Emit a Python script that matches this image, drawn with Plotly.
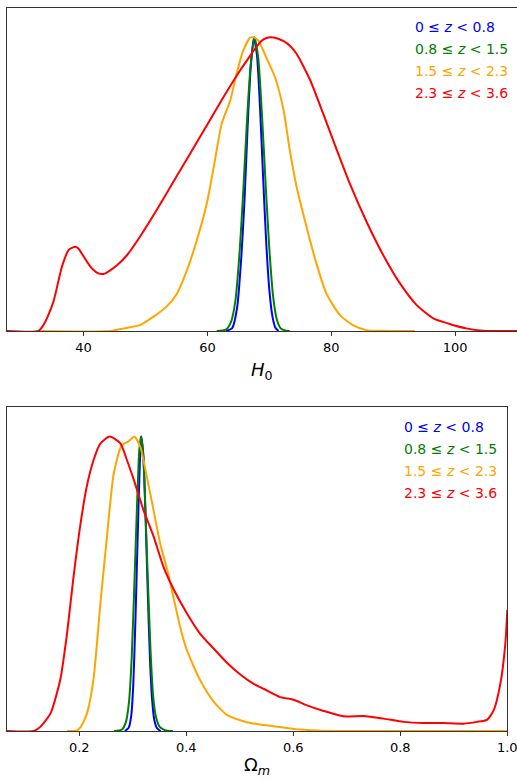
import plotly.graph_objects as go

# ---------- H0 panel data (normalised posterior) ----------
h0_blue_x = [63.0, 64.0, 64.8, 65.5, 66.0, 66.5, 67.0, 67.5, 68.0, 68.5, 69.0, 69.5, 70.0, 70.5, 71.0, 71.5]
h0_blue_y = [0.0, 0.01, 0.08, 0.26, 0.45, 0.70, 0.90, 1.0, 0.94, 0.76, 0.52, 0.30, 0.14, 0.05, 0.01, 0.0]

h0_green_x = [61.5, 63.0, 63.8, 64.5, 65.2, 65.8, 66.4, 67.0, 67.6, 68.2, 68.8, 69.4, 70.0, 70.6, 71.2, 71.8, 72.5, 73.3]
h0_green_y = [0.0, 0.005, 0.03, 0.10, 0.27, 0.48, 0.72, 0.91, 1.0, 0.93, 0.74, 0.50, 0.28, 0.12, 0.04, 0.01, 0.002, 0.0]

h0_orange_x = [33.0, 44.3, 46.5, 49.1, 51.3, 53.4, 55.1, 56.7, 58.3, 59.9, 61.2, 62.3, 63.7, 64.7, 65.8,
               66.9, 67.4, 68.2, 69.6, 70.9, 72.3, 73.3, 74.4, 76.0, 77.6, 79.2, 81.4, 83.5, 85.7, 88.0, 93.5]
h0_orange_y = [0.0, 0.0, 0.009, 0.02, 0.049, 0.083, 0.128, 0.207, 0.31, 0.434, 0.58, 0.706, 0.786, 0.876, 0.956,
               0.999, 1.0, 0.99, 0.927, 0.865, 0.752, 0.616, 0.491, 0.355, 0.23, 0.128, 0.054, 0.02, 0.003, 0.0005, 0.0]

h0_red_x = [27.6, 32.7, 33.5, 34.3, 35.2, 36.5, 37.6, 38.2, 38.7, 39.2, 39.7, 41.1, 42.2, 43.2, 43.8, 45.4, 47.0,
            49.1, 51.8, 54.5, 57.2, 59.9, 62.6, 65.3, 66.5, 68.0, 69.0, 70.1, 71.2, 72.3, 73.4, 74.4, 76.6,
            78.7, 80.3, 83.0, 85.7, 88.4, 91.1, 93.8, 96.5, 99.1, 101.8, 104.5, 110.0]
h0_red_y = [0.0, 0.0, 0.02, 0.054, 0.105, 0.219, 0.276, 0.284, 0.287, 0.28, 0.264, 0.219, 0.198, 0.194, 0.20, 0.224,
            0.258, 0.321, 0.412, 0.508, 0.604, 0.70, 0.797, 0.888, 0.925, 0.97, 0.992, 1.0, 0.997, 0.987, 0.97,
            0.944, 0.854, 0.74, 0.65, 0.502, 0.372, 0.258, 0.162, 0.088, 0.043, 0.024, 0.009, 0.001, 0.0]

# ---------- Omega_m panel data ----------
om_blue_x = [0.285, 0.292, 0.297, 0.301, 0.305, 0.309, 0.313, 0.316, 0.320, 0.324, 0.328, 0.332, 0.336, 0.340, 0.345, 0.352]
om_blue_y = [0.0, 0.01, 0.05, 0.16, 0.38, 0.65, 0.90, 1.0, 0.93, 0.72, 0.47, 0.25, 0.11, 0.04, 0.01, 0.0]

om_green_x = [0.265, 0.280, 0.287, 0.293, 0.298, 0.303, 0.308, 0.312, 0.315, 0.319, 0.323, 0.328, 0.333,
              0.338, 0.343, 0.350, 0.360, 0.375]
om_green_y = [0.0, 0.005, 0.03, 0.10, 0.25, 0.50, 0.77, 0.95, 1.0, 0.95, 0.78, 0.52, 0.28, 0.12, 0.05, 0.015, 0.003, 0.0]

om_orange_x = [0.177, 0.195, 0.202, 0.2144, 0.2268, 0.2393, 0.2517, 0.264, 0.2766, 0.283, 0.291, 0.303, 0.314,
               0.3265, 0.339, 0.3514, 0.364, 0.376, 0.389, 0.401, 0.426, 0.451, 0.476, 0.5135, 0.538, 0.563,
               0.6006, 0.644, 0.70, 1.0]
om_orange_y = [0.0, 0.002, 0.012, 0.06, 0.18, 0.43, 0.66, 0.87, 0.96, 0.975, 0.982, 0.999, 0.965,
               0.861, 0.748, 0.635, 0.55, 0.454, 0.35, 0.275, 0.172, 0.10, 0.055, 0.03, 0.022, 0.016,
               0.007, 0.002, 0.0, 0.0]

om_red_x = [0.0649, 0.1146, 0.127, 0.146, 0.1645, 0.177, 0.189, 0.202, 0.214, 0.2267, 0.239, 0.2567, 0.2766,
            0.289, 0.3015, 0.32, 0.339, 0.3576, 0.376, 0.401, 0.426, 0.451, 0.476, 0.501, 0.526, 0.5445,
            0.5757, 0.6006, 0.6255, 0.6567, 0.694, 0.7315, 0.769, 0.8062, 0.8436, 0.881, 0.918, 0.943,
            0.962, 0.9745, 0.987, 0.9963, 1.0]
om_red_y = [0.0, 0.0, 0.014, 0.059, 0.175, 0.33, 0.52, 0.70, 0.83, 0.92, 0.975, 1.0, 0.977,
            0.92, 0.855, 0.75, 0.66, 0.556, 0.482, 0.40, 0.33, 0.28, 0.232, 0.192, 0.16, 0.1435,
            0.115, 0.106, 0.087, 0.068, 0.05, 0.051, 0.042, 0.031, 0.027, 0.027, 0.025, 0.031,
            0.038, 0.07, 0.16, 0.296, 0.411]

labels = ["0 ≤ <i>z</i> < 0.8", "0.8 ≤ <i>z</i> < 1.5", "1.5 ≤ <i>z</i> < 2.3", "2.3 ≤ <i>z</i> < 3.6"]
colors = ["blue", "green", "orange", "red"]

h0_x_ticks = [40, 60, 80, 100]
om_x_ticks = [0.2, 0.4, 0.6, 0.8, 0.9999]
om_x_ticktext = ["0.2", "0.4", "0.6", "0.8", "1.0"]

fig = go.Figure()
h0_series = [(h0_blue_x, h0_blue_y), (h0_green_x, h0_green_y), (h0_orange_x, h0_orange_y), (h0_red_x, h0_red_y)]
om_series = [(om_blue_x, om_blue_y), (om_green_x, om_green_y), (om_orange_x, om_orange_y), (om_red_x, om_red_y)]

for (xs, ys), c in zip(h0_series, colors):
    fig.add_trace(go.Scatter(x=xs, y=ys, mode="lines", line=dict(color=c, width=2, shape="spline", smoothing=0.6),
                             xaxis="x", yaxis="y", showlegend=False, cliponaxis=True))
for (xs, ys), c in zip(om_series, colors):
    fig.add_trace(go.Scatter(x=xs, y=ys, mode="lines", line=dict(color=c, width=2, shape="spline", smoothing=0.6),
                             xaxis="x2", yaxis="y2", showlegend=False, cliponaxis=True))

W, H = 517, 781
ML, MR, MT, MB = 7, 0, 8, 50
pw, ph = W - ML - MR, H - MT - MB

def py(pix):
    return (H - MB - pix) / ph

def px(pix):
    return (pix - ML) / pw

axis_common = dict(showgrid=False, zeroline=False, showline=True, linecolor="#333333", linewidth=1,
                   ticks="outside", ticklen=4, tickcolor="#333333", tickwidth=1, ticklabeloverflow="allow",
                   automargin=False, tickfont=dict(family="DejaVu Sans", size=13, color="black"))
yaxis_common = dict(range=[0, 1.1], showticklabels=False, showgrid=False, zeroline=False, automargin=False,
                    showline=True, linecolor="#333333", linewidth=1, ticks="")

fig.update_layout(
    width=W, height=H, margin=dict(l=ML, r=MR, t=MT, b=MB, autoexpand=False),
    paper_bgcolor="white", plot_bgcolor="white",
    xaxis=dict(domain=[0, 1], range=[27.63, 110.0], tickvals=h0_x_ticks, anchor="y", mirror=True, **axis_common),
    yaxis=dict(domain=[py(331), 1], anchor="x", **yaxis_common),
    xaxis2=dict(domain=[0, px(507.3)], range=[0.0649, 1.0], tickvals=om_x_ticks, ticktext=om_x_ticktext,
                anchor="y2", mirror=True, **axis_common),
    yaxis2=dict(domain=[0, py(407)], anchor="x2", mirror=True, **yaxis_common),
)

ann = []
for i, (lab, c) in enumerate(zip(labels, colors)):
    ann.append(dict(xref="paper", yref="paper", x=px(413), y=py(27 + 22 * i), xanchor="left", yanchor="middle",
                    text=lab, showarrow=False, font=dict(family="DejaVu Sans", size=14, color=c)))
    ann.append(dict(xref="paper", yref="paper", x=px(402), y=py(427 + 22 * i), xanchor="left", yanchor="middle",
                    text=lab, showarrow=False, font=dict(family="DejaVu Sans", size=14, color=c)))
ann.append(dict(xref="paper", yref="paper", x=px(262), y=py(371), xanchor="center", yanchor="middle",
                text="<i>H</i><sub>0</sub>", showarrow=False, font=dict(family="DejaVu Sans", size=18, color="black")))
ann.append(dict(xref="paper", yref="paper", x=px(257), y=py(766), xanchor="center", yanchor="middle",
                text="Ω<sub><i>m</i></sub>", showarrow=False, font=dict(family="DejaVu Sans", size=18, color="black")))
fig.update_layout(annotations=ann)

fig.write_html("out.html", config={"displayModeBar": False},
               post_script="document.body.style.margin='0';document.body.style.padding='0';"
                           "document.body.style.overflow='hidden';")
